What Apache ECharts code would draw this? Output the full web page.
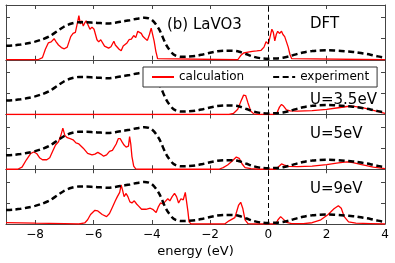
<!DOCTYPE html>
<html><head><meta charset="utf-8">
<script src="https://cdn.jsdelivr.net/npm/echarts@6/dist/echarts.min.js"></script>
<style>html,body{margin:0;padding:0;background:#fff}#c{width:395px;height:263px}</style>
</head><body><div id="c"></div>
<script>
const xTicks = [-8, -6, -4, -2, 0, 2, 4];
const panelLabels = ['DFT', 'U=3.5eV', 'U=5eV', 'U=9eV'];
const expX = [-9,-8.75,-8.5,-8.25,-8,-7.75,-7.5,-7.25,-7,-6.75,-6.5,-6.25,-6,-5.75,-5.5,-5.25,-5,-4.75,-4.5,-4.25,-4,-3.75,-3.5,-3.25,-3,-2.75,-2.5,-2.25,-2,-1.75,-1.5,-1.25,-1,-0.75,-0.5,-0.25,0,0.25,0.5,0.75,1,1.25,1.5,1.75,2,2.25,2.5,2.75,3,3.25,3.5,3.75,4];
const expY = [0.66,0.68,0.72,0.78,0.86,0.97,1.12,1.35,1.58,1.72,1.78,1.78,1.76,1.74,1.72,1.76,1.82,1.88,1.95,2.0,1.9,1.45,0.7,0.25,0.14,0.15,0.18,0.25,0.33,0.4,0.43,0.43,0.38,0.26,0.14,0.07,0.05,0.06,0.1,0.18,0.28,0.36,0.41,0.44,0.45,0.44,0.42,0.39,0.36,0.3,0.24,0.16,0.1];
const dft = [[-9,0],[-7.9,0],[-7.75,0.1],[-7.65,0.5],[-7.55,0.8],[-7.45,0.85],[-7.35,1.0],[-7.28,0.85],[-7.2,0.7],[-7.1,0.58],[-7.0,0.52],[-6.9,0.6],[-6.85,0.65],[-6.78,1.1],[-6.7,1.25],[-6.62,1.3],[-6.55,1.75],[-6.5,2.1],[-6.45,1.7],[-6.4,1.85],[-6.35,1.6],[-6.3,1.75],[-6.25,1.85],[-6.2,1.8],[-6.12,1.45],[-6.05,1.55],[-5.98,1.45],[-5.93,1.2],[-5.88,0.95],[-5.82,0.85],[-5.75,0.95],[-5.7,0.88],[-5.62,0.65],[-5.55,0.6],[-5.48,0.55],[-5.4,0.62],[-5.35,0.75],[-5.3,0.88],[-5.25,0.7],[-5.2,0.62],[-5.12,0.5],[-5.05,0.43],[-4.98,0.65],[-4.92,0.72],[-4.85,0.8],[-4.78,0.95],[-4.7,0.98],[-4.62,1.15],[-4.55,1.05],[-4.48,1.35],[-4.42,1.42],[-4.36,1.25],[-4.3,1.1],[-4.22,1.0],[-4.15,0.92],[-4.08,1.2],[-4.02,1.5],[-3.97,1.5],[-3.92,0.9],[-3.86,0.4],[-3.8,0.05],[-3.75,0],[-1.05,0],[-0.95,0.2],[-0.85,0.32],[-0.7,0.36],[-0.55,0.4],[-0.4,0.42],[-0.25,0.45],[-0.15,0.6],[-0.08,0.85],[0,0.75],[0.06,1.1],[0.12,1.45],[0.17,1.3],[0.22,0.9],[0.27,1.2],[0.32,1.35],[0.38,1.25],[0.45,1.35],[0.5,1.2],[0.56,1.1],[0.62,1.05],[0.68,0.6],[0.74,0.25],[0.8,0.05],[0.85,0],[4,0]];
const u35 = [[-9,0],[-1.35,0],[-1.2,0.05],[-1.05,0.25],[-0.95,0.6],[-0.85,0.92],[-0.78,0.9],[-0.7,0.55],[-0.6,0.15],[-0.5,0.03],[-0.3,0],[0.2,0],[0.3,0.1],[0.38,0.35],[0.45,0.48],[0.52,0.4],[0.62,0.22],[0.75,0.17],[1,0.16],[1.5,0.18],[2,0.24],[2.4,0.32],[2.7,0.38],[2.85,0.4],[3.0,0.37],[3.3,0.3],[3.6,0.2],[4,0.05]];
const u5 = [[-9,0],[-8.6,0],[-8.45,0.1],[-8.3,0.45],[-8.15,0.75],[-8.05,0.82],[-7.95,0.75],[-7.85,0.55],[-7.75,0.45],[-7.6,0.45],[-7.5,0.55],[-7.4,0.85],[-7.3,1.15],[-7.2,1.3],[-7.12,1.6],[-7.05,1.95],[-6.98,1.6],[-6.9,1.5],[-6.8,1.45],[-6.7,1.4],[-6.6,1.25],[-6.5,1.2],[-6.35,1.0],[-6.2,0.75],[-6.05,0.68],[-5.95,0.72],[-5.85,0.8],[-5.75,0.72],[-5.65,0.62],[-5.55,0.68],[-5.45,0.85],[-5.35,0.9],[-5.3,0.85],[-5.22,1.2],[-5.15,1.45],[-5.08,1.45],[-5.02,1.3],[-4.95,1.15],[-4.88,1.05],[-4.8,1.1],[-4.76,1.55],[-4.72,1.2],[-4.68,0.6],[-4.62,0.15],[-4.55,0.02],[-4.4,0],[-1.7,0],[-1.55,0.08],[-1.4,0.2],[-1.25,0.38],[-1.1,0.58],[-1.0,0.52],[-0.9,0.25],[-0.8,0.08],[-0.6,0.03],[-0.3,0],[0.25,0],[0.35,0.12],[0.45,0.25],[0.55,0.2],[0.7,0.14],[1.0,0.12],[1.5,0.15],[2.0,0.22],[2.4,0.3],[2.7,0.35],[2.9,0.32],[3.2,0.22],[3.6,0.1],[4,0.03]];
const u9 = [[-9,0.07],[-8,0.04],[-7,0.02],[-6.5,0],[-6.3,0.05],[-6.2,0.2],[-6.1,0.45],[-5.95,0.65],[-5.85,0.62],[-5.7,0.45],[-5.55,0.35],[-5.45,0.5],[-5.35,0.8],[-5.25,1.1],[-5.18,1.3],[-5.1,1.5],[-5.05,1.85],[-5.0,1.6],[-4.95,1.3],[-4.88,1.45],[-4.82,1.3],[-4.75,1.05],[-4.68,1.0],[-4.6,1.1],[-4.52,0.95],[-4.45,0.85],[-4.35,0.7],[-4.2,0.7],[-4.05,0.75],[-3.95,0.68],[-3.85,0.55],[-3.78,0.8],[-3.7,1.0],[-3.62,0.95],[-3.55,1.05],[-3.45,1.2],[-3.38,1.1],[-3.3,1.3],[-3.22,1.45],[-3.15,1.3],[-3.08,1.0],[-3.0,1.2],[-2.92,1.15],[-2.85,1.5],[-2.8,1.45],[-2.76,0.6],[-2.72,0.1],[-2.65,0],[-1.5,0],[-1.35,0.15],[-1.15,0.3],[-1.02,0.9],[-0.95,1.03],[-0.88,0.75],[-0.8,0.2],[-0.7,0.02],[-0.5,0],[0.25,0],[0.33,0.2],[0.42,0.35],[0.52,0.22],[0.62,0.08],[0.8,0.02],[1.2,0.02],[1.5,0.06],[1.8,0.2],[2.05,0.45],[2.25,0.72],[2.4,0.87],[2.5,0.75],[2.6,0.35],[2.75,0.1],[3.0,0.04],[3.5,0.02],[4,0]];
const calcSets = [dft, u35, u5, u9];

const FONT = 'DejaVu Sans';
const tops = [5, 59.75, 114.5, 169.25];
const H = 54.75;
const frame = '#444';
const fmt = v => v < 0 ? '\u2212' + (-v) : String(v);
const expData = expX.map((x, i) => [x, expY[i]]);

const grid = [], xAxis = [], yAxis = [], series = [], graphic = [];
for (let i = 0; i < 4; i++) {
  grid.push({left: 6, right: 10, top: tops[i], height: H});
  const baseX = {type: 'value', gridIndex: i, min: -9, max: 4,
    axisLine: {show: true, onZero: false, lineStyle: {color: frame, width: 1}},
    axisTick: {show: true, inside: true, length: 4, customValues: xTicks, lineStyle: {color: frame}},
    splitLine: {show: false}};
  xAxis.push(Object.assign({}, baseX, {position: 'bottom',
    axisLabel: {show: i === 3, customValues: xTicks, formatter: fmt, margin: 5, color: '#000', fontFamily: FONT, fontSize: 12},
    name: i === 3 ? 'energy (eV)' : '', nameLocation: 'middle', nameGap: 21,
    nameTextStyle: {color: '#000', fontFamily: FONT, fontSize: 13}}));
  xAxis.push(Object.assign({}, baseX, {position: 'top', axisLabel: {show: false}}));
  const baseY = {type: 'value', gridIndex: i, min: 0, max: 2.6, interval: 1,
    axisLine: {show: true, onZero: false, lineStyle: {color: frame, width: 1}},
    axisTick: {show: true, inside: true, length: 4, lineStyle: {color: frame}},
    axisLabel: {show: false}, splitLine: {show: false}};
  yAxis.push(Object.assign({}, baseY, {position: 'left'}));
  yAxis.push(Object.assign({}, baseY, {position: 'right'}));
  series.push({name: 'calculation', type: 'line', xAxisIndex: 2 * i, yAxisIndex: 2 * i,
    data: calcSets[i], symbol: 'none', lineStyle: {color: '#ff0000', width: 1.3}, itemStyle: {color: '#ff0000'}, z: 2,
    markLine: {symbol: 'none', silent: true, label: {show: false}, lineStyle: {color: '#000', type: [5, 3], width: 1}, data: [{xAxis: 0}]}});
  series.push({name: 'experiment', type: 'line', xAxisIndex: 2 * i, yAxisIndex: 2 * i,
    data: expData, symbol: 'none', smooth: 0.3, lineStyle: {color: '#000', width: 2.5, type: [6, 3.5]}, itemStyle: {color: '#000'}, z: 3});
}
const labelY = [22, 98, 132, 187];
panelLabels.forEach((t, i) => graphic.push({type: 'text', left: 310, top: labelY[i] - 5,
  style: {text: t, fontFamily: FONT, fontSize: 15, fill: '#000'}}));
graphic.push({type: 'text', left: 167, top: 18, style: {text: '(b) LaVO3', fontFamily: FONT, fontSize: 15, fill: '#000'}});

const chart = echarts.init(document.getElementById('c'), null, {renderer: 'canvas'});
chart.setOption({
  animation: false,
  backgroundColor: '#fff',
  grid, xAxis, yAxis, series, graphic,
  legend: {data: ['calculation', 'experiment'], left: 143, top: 67, orient: 'horizontal',
    borderColor: '#333', borderWidth: 1, padding: [4, 8], itemWidth: 22, itemHeight: 10, itemGap: 28,
    itemStyle: {opacity: 0},
    backgroundColor: '#fff', textStyle: {fontFamily: FONT, fontSize: 12, color: '#000'}, z: 10}
});
</script></body></html>
